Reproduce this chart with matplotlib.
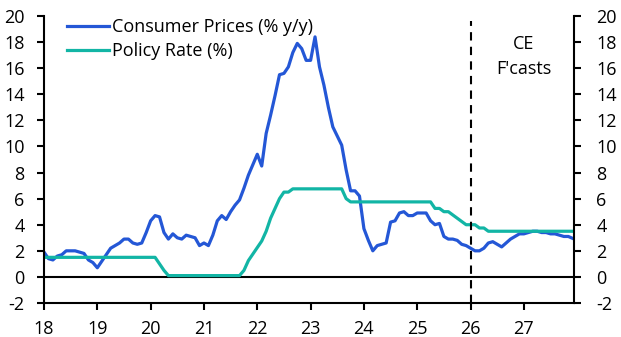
import numpy as np
import matplotlib
matplotlib.use("Agg")
import matplotlib.pyplot as plt

plt.rcParams['font.family'] = ['Open Sans', 'DejaVu Sans']
plt.rcParams['font.size'] = 13
plt.rcParams['axes.unicode_minus'] = False

# Monthly data, Jan 2018 - Dec 2027 (forecasts from Jan 2026)
cpi = [1.9, 1.4, 1.3, 1.6, 1.7, 2.0, 2.0, 2.0, 1.9, 1.8, 1.3, 1.1,   # 2018
       0.7, 1.2, 1.7, 2.2, 2.4, 2.6, 2.9, 2.9, 2.6, 2.5, 2.6, 3.4,   # 2019
       4.3, 4.7, 4.6, 3.4, 2.9, 3.3, 3.0, 2.9, 3.2, 3.1, 3.0, 2.4,   # 2020
       2.6, 2.4, 3.2, 4.3, 4.7, 4.4, 5.0, 5.5, 5.9, 6.8, 7.8, 8.6,   # 2021
       9.4, 8.5, 11.0, 12.4, 13.9, 15.5, 15.6, 16.1, 17.2, 17.9, 17.5, 16.6,  # 2022
       16.6, 18.4, 16.1, 14.7, 13.0, 11.5, 10.8, 10.1, 8.2, 6.6, 6.6, 6.2,   # 2023
       3.7, 2.8, 2.0, 2.4, 2.5, 2.6, 4.2, 4.3, 4.9, 5.0, 4.7, 4.7,   # 2024
       4.9, 4.9, 4.9, 4.3, 4.0, 4.1, 3.1, 2.9, 2.9, 2.8, 2.5, 2.4,   # 2025
       2.2, 2.0, 2.0, 2.2, 2.6, 2.7, 2.5, 2.3, 2.6, 2.9, 3.1, 3.3,   # 2026
       3.3, 3.4, 3.5, 3.5, 3.4, 3.4, 3.3, 3.3, 3.2, 3.1, 3.1, 2.95]  # 2027

policy = [1.5] * 26 + [1.0, 0.5] + [0.1] * 17 + [0.5, 1.25, 1.75] \
    + [2.25, 2.75, 3.5, 4.5, 5.25, 6.0, 6.5, 6.5] + [6.75] * 12 \
    + [6.0] + [5.75] * 19 + [5.25, 5.25, 5.0, 5.0, 4.75, 4.5, 4.25, 4.0] \
    + [4.0, 4.0, 3.75, 3.75] + [3.5] * 20

x = 18 + np.arange(len(cpi)) / 12

fig = plt.figure(figsize=(6.21, 3.37), dpi=100)
ax = fig.add_axes([44 / 621, 1 - 303 / 337, 530 / 621, 287 / 337])

ax.plot(x, cpi, color="#2457d6", lw=2.3, label="Consumer Prices (% y/y)")
ax.plot(x, policy, color="#12b5a5", lw=2.3, label="Policy Rate (%)")
ax.axhline(0, color="black", lw=1.5, zorder=1)
ax.plot([26, 26], [-2, 19.6], color="black", lw=1.5, ls=(0, (4, 3)))
ax.text(27.0, 16.9, "CE\nF'casts", ha="center", va="center", fontsize=13,
        linespacing=1.5)

ax.set_xlim(18, 27.94)
ax.set_ylim(-2, 20)
ax.set_xticks(range(18, 28))
ax.set_yticks(range(-2, 21, 2))
for s in ["top", "right"]:
    ax.spines[s].set_visible(False)
for s in ["left", "bottom"]:
    ax.spines[s].set_linewidth(1.5)
ax.tick_params(width=1.5, length=5)
ax.tick_params(axis="y", pad=9)
ax.tick_params(axis="x", pad=7)

ax2 = ax.twinx()
ax2.set_ylim(-2, 20)
ax2.set_yticks(range(-2, 21, 2))
for s in ["top", "left", "bottom"]:
    ax2.spines[s].set_visible(False)
ax2.spines["right"].set_linewidth(1.5)
ax2.tick_params(width=1.5, length=5, pad=11)

ax.legend(loc="upper left", bbox_to_anchor=(0.03, 1.018), frameon=False,
          fontsize=13, handlelength=2.3, handletextpad=0.2,
          labelspacing=0.35, borderaxespad=0)

fig.savefig("out.png", dpi=100)
